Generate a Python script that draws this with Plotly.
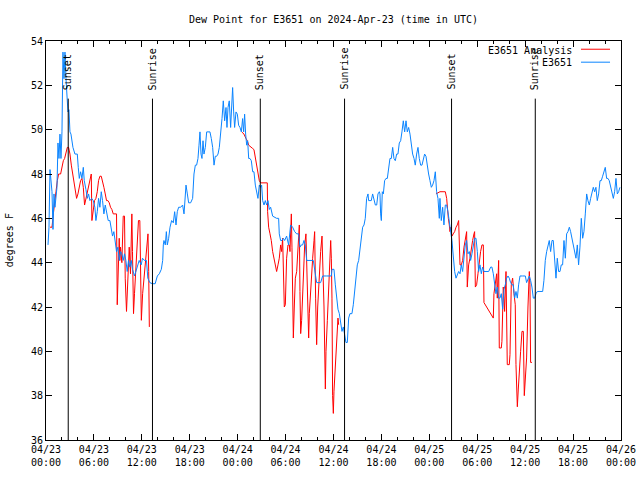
import pandas as pd
import plotly.graph_objects as go

BASE = "2024-04-23 00:00"
TITLE = "Dew Point for E3651 on 2024-Apr-23 (time in UTC)"

# E3651 observations: hours since BASE, dew point (F)
obs_hours = [0.25, 0.375, 0.5, 0.625, 0.75, 0.875, 1.0, 1.125, 1.25, 1.375, 1.5, 1.625, 1.75, 1.875, 2.0,
             2.125, 2.25, 2.375, 2.5, 2.625, 2.75, 2.875, 3.0, 3.125, 3.25, 3.375, 3.625, 3.92, 4.04, 4.17,
             4.33, 4.5, 4.67, 4.79, 5.0, 5.17, 5.33, 5.5, 5.71, 5.92, 6.12, 6.25, 6.42, 6.58, 6.75, 6.92,
             7.08, 7.25, 7.42, 7.58, 7.79, 8.0, 8.17, 8.33, 8.5, 8.67, 8.83, 9.0, 9.17, 9.33, 9.5, 9.67,
             9.83, 10.0, 10.17, 10.33, 10.5, 10.67, 10.83, 11.08, 11.42, 11.67, 11.92, 12.08, 12.33, 12.58,
             12.75, 13.0, 13.33, 13.67, 13.94, 14.19, 14.44, 14.61, 14.69, 14.77, 14.94, 15.07, 15.19, 15.36,
             15.53, 15.73, 15.94, 16.11, 16.28, 16.44, 16.61, 16.86, 17.11, 17.28, 17.36, 17.53, 17.7, 17.86,
             18.11, 18.36, 18.53, 18.7, 18.86, 19.03, 19.16, 19.28, 19.41, 19.53, 19.66, 19.78, 19.95, 20.12,
             20.28, 20.53, 20.7, 20.87, 21.04, 21.2, 21.37, 21.54, 21.7, 21.79, 21.95, 22.04, 22.2, 22.37,
             22.54, 22.66, 22.79, 22.95, 23.12, 23.25, 23.37, 23.5, 23.62, 23.79, 23.96, 24.12, 24.29, 24.46,
             24.62, 24.75, 24.87, 25.0, 25.13, 25.25, 25.38, 25.54, 25.71, 25.88, 26.04, 26.21, 26.38, 26.54,
             26.71, 26.88, 27.0, 27.13, 27.3, 27.46, 27.63, 27.8, 27.96, 28.13, 28.38, 28.88, 29.13, 29.21,
             29.38, 29.55, 29.72, 29.88, 30.13, 30.38, 30.63, 30.88, 31.14, 31.39, 31.64, 31.8, 31.97, 32.14,
             32.3, 32.47, 32.64, 33.05, 33.47, 33.72, 33.89, 34.39, 34.64, 35.14, 35.73, 35.81, 36.06, 36.23,
             36.39, 36.56, 36.73, 36.89, 37.06, 37.23, 37.39, 37.56, 37.73, 37.9, 38.06, 38.31, 38.48, 38.65,
             38.81, 38.98, 39.15, 39.32, 39.48, 39.65, 39.82, 39.98, 40.15, 40.32, 40.4, 40.57, 40.73, 40.9,
             41.07, 41.24, 41.41, 41.57, 41.74, 41.82, 41.9, 41.99, 42.11, 42.24, 42.4, 42.57, 42.74, 42.9,
             43.07, 43.24, 43.41, 43.57, 43.74, 43.91, 44.07, 44.24, 44.41, 44.57, 44.74, 44.91, 45.08, 45.24,
             45.41, 45.58, 45.74, 45.91, 46.08, 46.24, 46.41, 46.58, 46.74, 46.91, 47.08, 47.25, 47.41, 47.58,
             47.75, 47.91, 48.08, 48.25, 48.41, 48.58, 48.75, 48.91, 49.08, 49.25, 49.33, 49.5, 49.67, 49.83,
             50.0, 50.17, 50.33, 50.5, 50.67, 50.83, 51.0, 51.17, 51.34, 51.5, 51.67, 51.84, 52.0, 52.17,
             52.34, 52.5, 52.67, 52.84, 53.01, 53.17, 53.34, 53.51, 53.67, 53.84, 54.01, 54.17, 54.34, 54.51,
             54.67, 54.84, 55.18, 55.43, 55.68, 55.84, 56.01, 56.18, 56.34, 56.51, 56.68, 56.84, 57.01, 57.18,
             57.35, 57.51, 57.68, 57.85, 58.01, 58.18, 58.35, 58.51, 58.68, 58.85, 59.02, 59.18, 59.35, 59.68,
             60.02, 60.18, 60.35, 60.52, 60.68, 60.85, 61.02, 61.19, 61.35, 61.52, 61.85, 62.19, 62.35, 62.52,
             62.69, 62.85, 63.02, 63.19, 63.36, 63.52, 63.69, 63.86, 64.02, 64.19, 64.36, 64.52, 64.69, 64.86,
             65.03, 65.19, 65.36, 65.53, 65.69, 65.86, 66.03, 66.19, 66.36, 66.53, 66.69, 66.86, 67.03, 67.2,
             67.36, 67.53, 67.7, 67.86, 68.03, 68.2, 68.36, 68.53, 68.7, 68.86, 69.03, 69.2, 69.37, 69.53,
             69.7, 69.87, 70.03, 70.2, 70.37, 70.53, 70.7, 70.87, 71.04, 71.2, 71.37, 71.54, 71.7, 71.87]
obs_values = [44.8, 45.6, 48.2, 47.5, 47.2, 45.5, 47.1, 46.5, 47.1, 47.4, 49.4, 48.7, 49.8, 48.7, 49.9,
              53.5, 52.3, 53.5, 52.3, 51.6, 50.8, 50.9, 49.9, 49.8, 49.5, 49.2, 48.9, 48.9, 48.3, 47.8,
              48.1, 47.8, 48.3, 47.7, 47.3, 46.9, 47.1, 46.8, 46.9, 46.8, 46.5, 45.9, 46.3, 46.9, 46.5, 47.2,
              46.8, 46.2, 46.6, 46.2, 45.9, 45.9, 45.4, 45.2, 45.4, 44.8, 44.5, 44.7, 44.1, 44.5, 44.4, 44.1,
              44.4, 44.1, 43.6, 44.1, 43.8, 44.1, 43.7, 43.4, 43.8, 44.1, 43.9, 44.2, 44.1, 44.1,
              43.3, 43.1, 43.05, 43.05, 43.4, 43.5, 43.7, 44.1, 44.8, 45.0, 44.8, 45.4, 44.8, 45.1,
              45.6, 45.9, 45.8, 46.3, 45.7, 46.3, 46.5, 46.5, 46.6, 46.2, 46.6, 47.5, 47.1, 46.7,
              46.7, 46.9, 48.0, 48.4, 48.4, 48.7, 49.3, 49.9, 48.9, 48.7, 49.5, 48.9, 49.2, 49.9,
              49.9, 49.9, 49.6, 49.2, 48.4, 48.8, 48.8, 48.9, 49.2, 49.5, 49.9, 50.5, 51.3, 50.4,
              51.0, 50.1, 51.0, 51.3, 50.1, 51.4, 51.9, 50.8, 50.1, 50.8, 50.7, 50.2, 50.1, 49.9,
              50.5, 49.9, 50.7, 49.8, 49.3, 49.5, 48.7, 48.7, 48.6, 48.1, 48.1, 47.5, 47.1, 46.9,
              47.5, 47.4, 47.5, 46.8, 46.6, 46.8, 46.6, 46.8, 46.4, 46.5, 46.1, 46.0, 46.0, 45.3,
              45.0, 45.0, 45.1, 45.0, 45.2, 44.8, 45.7, 45.6, 45.4, 45.3, 45.3, 44.7, 44.8, 44.8,
              45.0, 44.8, 44.1, 44.1, 44.1, 43.5, 43.1, 43.1, 43.4, 43.4, 43.4, 43.7, 43.7, 43.0,
              42.4, 41.9, 41.7, 41.2, 40.9, 41.1, 40.8, 40.4, 40.4, 41.5, 41.7, 41.7, 42.1, 42.7,
              43.0, 43.9, 44.1, 44.6, 45.3, 45.6, 45.7, 46.0, 46.9, 47.1, 46.8, 46.8, 46.8, 47.1,
              46.8, 46.6, 46.6, 47.1, 47.2, 47.1, 46.2, 45.9, 47.2, 47.1, 47.7, 47.8, 47.8, 48.4,
              48.7, 48.7, 49.2, 48.7, 48.6, 48.9, 48.9, 49.4, 49.5, 49.9, 50.4, 49.9, 50.4, 49.9,
              50.1, 49.8, 49.3, 48.9, 48.7, 48.4, 48.9, 49.2, 48.7, 48.4, 48.4, 48.7, 48.9, 48.8,
              48.3, 48.0, 47.7, 47.4, 47.5, 47.7, 48.1, 47.2, 46.9, 46.0, 46.9, 45.9, 46.5, 45.7,
              46.6, 46.6, 46.3, 45.7, 45.4, 45.0, 44.1, 43.6, 43.3, 43.5, 43.6, 43.5, 43.9, 43.6,
              44.2, 44.8, 45.0, 44.4, 44.5, 44.1, 44.4, 44.7, 45.1, 45.1, 44.5, 43.6, 43.9, 43.5,
              43.8, 43.6, 43.6, 43.6, 43.8, 43.8, 43.5, 42.9, 42.6, 42.9, 42.4, 42.4, 42.6, 41.9,
              42.8, 43.0, 43.3, 43.4, 43.3, 43.1, 43.0, 43.0, 42.4, 42.7, 42.4, 43.0, 43.4, 43.4,
              43.4, 43.1, 43.3, 43.4, 43.2, 42.9, 42.4, 42.4, 42.6, 42.7, 42.7, 42.7, 43.2, 44.1,
              44.5, 44.8, 45.0, 44.5, 45.0, 45.0, 44.1, 43.3, 44.2, 43.6, 43.6, 43.9, 43.9, 45.0,
              44.2, 45.3, 45.4, 45.6, 45.4, 45.1, 44.8, 44.5, 44.2, 44.8, 43.9, 44.7, 46.0, 45.1,
              45.4, 46.2, 47.1, 46.8, 46.6, 46.9, 47.1, 47.4, 47.2, 47.4, 46.8, 47.1, 47.7, 47.7,
              47.9, 48.1, 48.3, 47.8, 47.8, 47.7, 47.4, 47.2, 46.9, 47.2, 47.8, 47.1, 47.2, 47.4]

# E3651 Analysis: three night-time segments (hours since BASE, dew point F)
ana1_hours = [0.5, 0.75, 0.92, 1.08, 1.25, 1.42, 1.58, 1.83, 2.0, 2.17, 2.33, 2.5, 2.67, 2.83, 3.0, 3.17,
              3.33, 3.5, 3.67, 3.83, 4.0, 4.17, 4.33, 4.5, 4.67, 4.83, 5.0, 5.17, 5.33, 5.5, 5.67, 5.75,
              5.92, 6.08, 6.25, 6.42, 6.58, 6.75, 6.92, 7.08, 7.25, 7.42, 7.58, 7.75, 7.92, 8.08, 8.25,
              8.42, 8.67, 8.83, 8.92, 9.04, 9.17, 9.25, 9.33, 9.5, 9.67, 9.83, 9.92, 10.08, 10.25, 10.42,
              10.58, 10.75, 10.83, 10.96, 11.08, 11.25, 11.42, 11.58, 11.75, 11.85, 11.94, 12.1, 12.27,
              12.44, 12.6, 12.77, 12.86, 12.94]
ana1_values = [45.6, 45.6, 46.2, 46.8, 47.2, 47.7, 48.0, 48.0, 48.4, 48.6, 48.7, 48.9, 49.2, 49.2, 48.9, 48.4,
               48.0, 47.5, 47.2, 46.9, 47.1, 47.4, 47.7, 47.8, 47.4, 46.6, 46.9, 47.2, 47.5, 47.8, 48.0, 45.9,
               46.3, 46.8, 46.9, 47.2, 47.7, 47.9, 47.9, 47.7, 47.4, 47.1, 46.8, 46.8, 46.7, 46.5, 46.4,
               46.2, 46.2, 46.2, 42.1, 44.0, 45.1, 44.1, 44.7, 44.0, 46.1, 46.1, 43.3, 41.8, 43.6, 44.7,
               43.5, 46.2, 44.5, 41.7, 42.6, 43.6, 44.8, 45.9, 45.9, 43.6, 41.4, 42.6, 43.3,
               44.2, 44.7, 45.3, 43.6, 41.1]
ana2_hours = [24.5, 24.79, 25.04, 25.21, 25.38, 25.63, 25.88, 26.04, 26.21, 26.38, 26.54, 26.71, 26.88,
              27.3, 27.71, 27.75, 27.88, 28.05, 28.21, 28.38, 28.55, 28.71, 28.88, 29.05, 29.21, 29.38,
              29.51, 29.63, 29.72, 29.84, 29.97, 30.05, 30.13, 30.3, 30.47, 30.55, 30.63, 30.72, 30.8,
              30.88, 30.97, 31.09, 31.22, 31.39, 31.55, 31.72, 31.8, 31.89, 32.01, 32.14, 32.22, 32.39,
              32.55, 32.64, 32.76, 32.89, 32.97, 33.1, 33.22, 33.39, 33.56, 33.64, 33.76, 33.89, 34.02,
              34.14, 34.27, 34.39, 34.56, 34.64, 34.81, 34.98, 35.06, 35.23, 35.39, 35.56, 35.65, 35.73,
              35.81, 35.89, 35.98, 36.06, 36.19, 36.31, 36.44, 36.56, 36.64]
ana2_values = [49.9, 49.8, 49.6, 49.5, 49.3, 49.2, 49.15, 49.1, 48.7, 48.3, 48.0, 47.7, 47.6,
               47.6, 47.6, 46.3, 45.6, 45.3, 45.0, 44.5, 44.2, 43.9, 43.6, 43.9, 44.2, 44.8,
               44.5, 45.1, 43.9, 42.0, 42.1, 43.5, 44.2, 44.8, 44.8, 44.5, 45.8, 46.2, 44.7,
               42.4, 40.6, 42.0, 43.3, 43.6, 44.8, 45.7, 42.7, 40.8, 41.4, 42.7, 43.9, 44.8,
               45.3, 43.9, 41.6, 40.6, 41.7, 42.6, 43.3, 44.2, 45.0, 45.4, 42.4, 40.3, 42.0,
               43.0, 43.9, 44.5, 45.2, 44.2, 42.0, 38.3, 40.0, 41.4, 42.6, 43.9, 45.0, 44.2,
               42.4, 38.0, 37.2, 38.2, 39.0, 39.7, 40.5, 41.5, 41.2]
ana3_hours = [48.83, 49.33, 49.83, 50.0, 50.17, 50.25, 50.38, 50.5, 50.58, 50.71, 50.83, 51.0, 51.17,
              51.34, 51.5, 51.67, 51.75, 51.84, 52.0, 52.17, 52.34, 52.5, 52.67, 52.75, 52.84, 52.92,
              53.09, 53.26, 53.42, 53.59, 53.67, 53.76, 53.92, 54.09, 54.26, 54.42, 54.59, 54.76, 54.84,
              55.01, 55.18, 55.34, 55.51, 55.76, 56.01, 56.09, 56.26, 56.43, 56.51, 56.68, 56.76, 57.01,
              57.09, 57.26, 57.35, 57.43, 57.6, 57.76, 58.01, 58.1, 58.26, 58.43, 58.6, 58.76, 58.85,
              59.02, 59.14, 59.27, 59.43, 59.6, 59.77, 59.89, 60.02, 60.18, 60.35, 60.52, 60.6, 60.68,
              60.85]
ana3_values = [47.1, 47.2, 47.2, 47.2, 46.9, 46.3, 46.0, 45.7, 45.4, 45.6, 45.2, 45.3, 45.4,
               45.6, 45.7, 45.9, 44.8, 43.9, 43.9, 44.1, 44.7, 45.1, 45.4, 42.9, 43.5, 43.9,
               44.2, 44.7, 45.0, 45.3, 45.4, 42.9, 43.0, 43.5, 44.1, 44.5, 44.8, 44.8, 42.2,
               42.1, 42.0, 41.9, 41.8, 41.65, 41.5, 42.6, 43.0, 43.5, 42.4, 44.1, 40.15, 40.15,
               40.45, 42.9, 42.4, 41.8, 43.6, 39.4, 39.4, 39.85, 43.0, 43.3, 42.6, 42.1, 39.4,
               37.5, 38.3, 38.9, 40.0, 40.9, 40.9, 38.0, 38.6, 39.7, 42.0, 43.6, 43.0, 39.5,
               39.5]

# Sun events (UTC)
sun_times = ["2024-04-23 02:47", "2024-04-23 13:20", "2024-04-24 02:50",
             "2024-04-24 13:23", "2024-04-25 02:47", "2024-04-25 13:16"]
sun_labels = ["Sunset", "Sunrise", "Sunset", "Sunrise", "Sunset", "Sunrise"]

# Axis ranges / ticks
y_min, y_max = 36, 54
x_start, x_end = "2024-04-23 00:00", "2024-04-26 00:00"

base = pd.Timestamp(BASE)


def to_time(hours):
    return base + pd.to_timedelta(hours, unit="h")


RED = "#ff0000"
BLUE = "#0a84ff"
FONT = "DejaVu Sans Mono"

fig = go.Figure()
for hrs, vals in [(ana1_hours, ana1_values), (ana2_hours, ana2_values), (ana3_hours, ana3_values)]:
    fig.add_trace(go.Scatter(x=to_time(hrs), y=vals, mode="lines", name="E3651 Analysis",
                             line=dict(color=RED, width=1), showlegend=False, hoverinfo="skip"))
fig.add_trace(go.Scatter(x=to_time(obs_hours), y=obs_values, mode="lines", name="E3651",
                         line=dict(color=BLUE, width=1), showlegend=False))

# vertical sun lines and labels
for t, lab in zip(sun_times, sun_labels):
    fig.add_shape(type="line", x0=t, x1=t, y0=y_min, y1=51.4, xref="x", yref="y",
                  line=dict(color="black", width=1))
    fig.add_annotation(x=t, y=51.7, xref="x", yref="y", text=lab, textangle=-90,
                       showarrow=False, xanchor="center", yanchor="bottom",
                       font=dict(family=FONT, size=10, color="black"))

# ticks
tick_times = pd.date_range(x_start, x_end, freq="6h")
tick_text = [t.strftime("%m/%d") + "<br>" + t.strftime("%H:%M") for t in tick_times]

fig.update_xaxes(range=[x_start, x_end], tickvals=tick_times, ticktext=tick_text,
                 ticks="inside", ticklen=6, tickcolor="black", showline=True, linecolor="black",
                 linewidth=1, mirror="ticks", showgrid=False, zeroline=False,
                 minor=dict(dtick=2 * 3600 * 1000, ticks="inside", ticklen=3, tickcolor="black"),
                 tickfont=dict(family=FONT, size=10, color="black"))
fig.update_yaxes(range=[y_min, y_max], dtick=2, ticks="inside", ticklen=6, tickcolor="black",
                 showline=True, linecolor="black", linewidth=1, mirror="ticks", showgrid=False,
                 zeroline=False, tickfont=dict(family=FONT, size=10, color="black"))

# y label
fig.add_annotation(x=-0.063, y=0.5, xref="paper", yref="paper", text="degrees F", textangle=-90,
                   showarrow=False, xanchor="center", yanchor="middle",
                   font=dict(family=FONT, size=10, color="black"))

# legend (gnuplot style: text right-aligned, sample to the right)
for name, color, yp in [("E3651 Analysis", RED, 0.9774), ("E3651", BLUE, 0.9449)]:
    fig.add_annotation(x=0.9183, y=yp, xref="paper", yref="paper", text=name, showarrow=False,
                       xanchor="right", yanchor="middle", font=dict(family=FONT, size=10, color="black"))
    fig.add_shape(type="line", x0=0.9304, x1=0.9809, y0=yp + 0.002, y1=yp + 0.002, xref="paper",
                  yref="paper", line=dict(color=color, width=1))

fig.update_layout(
    width=640, height=480,
    margin=dict(l=46, r=19, t=41, b=40, autoexpand=False),
    paper_bgcolor="white", plot_bgcolor="white",
    title=dict(text=TITLE, x=0.5, xref="paper", y=1 - 19 / 480, yanchor="middle",
               font=dict(family=FONT, size=10, color="black")),
    showlegend=False,
)

# remove the default 8px page margin so the 640x480 figure fills the window exactly
fig.write_html("out.html", config={"displayModeBar": False},
               post_script="document.body.style.margin='0';")
